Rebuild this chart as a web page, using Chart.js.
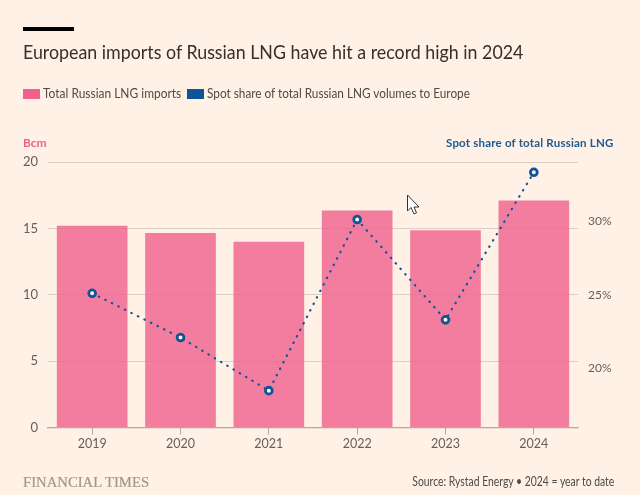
<!DOCTYPE html>
<html>
<head>
<meta charset="utf-8">
<script src="https://cdn.jsdelivr.net/npm/chart.js@4"></script>
<style>
html,body{margin:0;padding:0;background:#fff1e5;}
#wrap{position:relative;width:640px;height:495px;overflow:hidden;font-family:Lato,sans-serif;color:#33302e;}
#c{position:absolute;left:0;top:0;}
.t{position:absolute;white-space:nowrap;line-height:1;transform-origin:left top;}
.r{transform-origin:right top;}
.sw{position:absolute;width:17px;height:10px;}
</style>
</head>
<body>
<div id="wrap">
<canvas id="c" width="640" height="495" style="width:640px;height:495px"></canvas>
<div style="position:absolute;left:23px;top:27px;width:51px;height:4px;background:#000"></div>
<div class="t" style="left:23px;top:41px;font-size:20px;color:#33302e;transform:scaleX(.891)">European imports of Russian LNG have hit a record high in 2024</div>
<div class="sw" style="left:23px;top:89px;background:#f2608f"></div>
<div class="t" style="left:43px;top:87px;font-size:13px;color:#4f4a46;transform:scaleX(.92)">Total Russian LNG imports</div>
<div class="sw" style="left:187px;top:89px;background:#0f5499"></div>
<div class="t" style="left:207px;top:87px;font-size:13px;color:#4f4a46;transform:scaleX(.907)">Spot share of total Russian LNG volumes to Europe</div>
<div class="t" style="left:23px;top:137px;font-size:12px;font-weight:700;color:#f2608f">Bcm</div>
<div class="t r" style="right:26px;top:137px;font-size:12px;font-weight:700;letter-spacing:.2px;color:#1f5a92;transform:scaleX(.96)">Spot share of total Russian LNG</div>
<div class="t" style="left:23px;top:475px;font-family:'Liberation Serif',serif;font-size:14.7px;color:#a1978b;-webkit-text-stroke:.2px #a1978b">FINANCIAL TIMES</div>
<div class="t r" style="right:26px;top:476px;font-size:12.5px;color:#4f4a46;transform:scaleX(.83)">Source: Rystad Energy • 2024 = year to date</div>
<svg style="position:absolute;left:406px;top:194px" width="16" height="22" viewBox="0 0 16 22"><path d="M1.5 1 L1.5 17 L5 13.5 L8 20 L10.5 18.8 L8 13 L13 13 Z" fill="#fff" stroke="#33302e" stroke-width="1"/></svg>
</div>
<script>
const years = ['2019','2020','2021','2022','2023','2024'];
const imports = [15.2, 14.65, 14.0, 16.35, 14.85, 17.1];
const spotShare = [25.1, 22.1, 18.5, 30.1, 23.3, 33.3];
const bcmTicks = [0, 5, 10, 15, 20];
const shareTicks = [20, 25, 30];

const tickColor = '#66605c';

new Chart(document.getElementById('c'), {
  type:'bar',
  data:{
    labels:years,
    datasets:[
      {type:'line', label:'Spot share of total Russian LNG volumes to Europe', data:spotShare, yAxisID:'y1', order:1,
       borderColor:'#0f5499', borderWidth:2.2, borderDash:[0.5,6.8], borderCapStyle:'round', tension:0,
       pointRadius:3.4, pointBorderWidth:2.8, pointBackgroundColor:'#fff1e5', pointBorderColor:'#0f5499'},
      {type:'bar', label:'Total Russian LNG imports', data:imports, yAxisID:'y', order:2,
       backgroundColor:'rgba(240,96,140,0.8)', barPercentage:0.8, categoryPercentage:1}
    ]
  },
  options:{
    responsive:false, animation:false, devicePixelRatio:1,
    layout:{padding:{top:162,left:0,right:0,bottom:0}},
    plugins:{legend:{display:false},title:{display:false},tooltip:{enabled:false}},
    scales:{
      x:{
        afterFit:s=>{s.height=67.5;},
        grid:{offset:false,drawOnChartArea:false,drawTicks:true,tickLength:7,color:'#b3a99f'},
        border:{color:'#b3a99f',width:1.2},
        ticks:{font:{family:'Lato, sans-serif',size:12.5},color:tickColor,padding:2,maxRotation:0}
      },
      y:{
        position:'left',min:0,max:20,
        afterFit:s=>{s.width=48;},
        afterBuildTicks:s=>{s.ticks=bcmTicks.map(v=>({value:v}));},
        grid:{color:'#dbcfc4',drawTicks:false,lineWidth:1},
        border:{display:false},
        ticks:{font:{family:'Lato, sans-serif',size:13},color:tickColor,padding:10}
      },
      y1:{
        position:'right',min:16,max:34,
        afterFit:s=>{s.width=62;},
        afterBuildTicks:s=>{s.ticks=shareTicks.map(v=>({value:v}));},
        grid:{drawOnChartArea:false,drawTicks:false},
        border:{display:false},
        ticks:{font:{family:'Lato, sans-serif',size:12},color:tickColor,padding:10,callback:v=>v+'%'}
      }
    }
  }
});
</script>
</body>
</html>
